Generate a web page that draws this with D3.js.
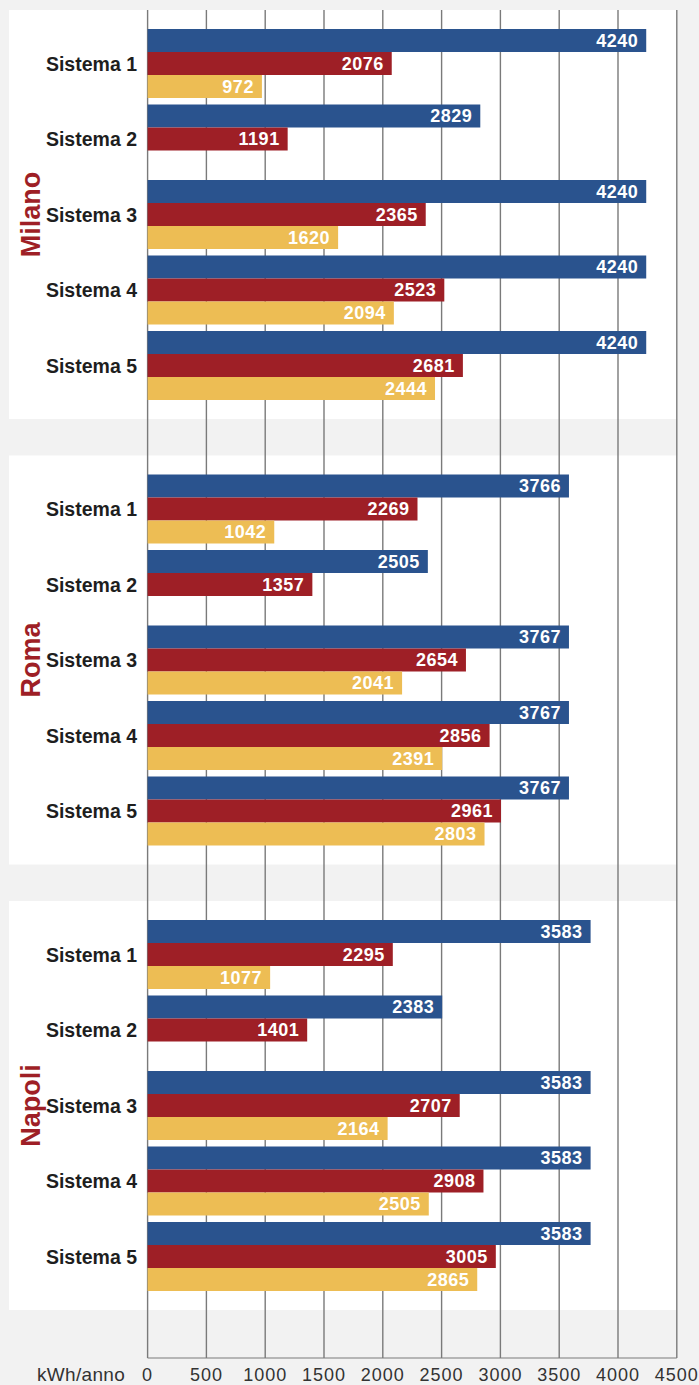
<!DOCTYPE html>
<html>
<head>
    <meta charset="utf-8">
    <title>kWh/anno per sistema</title>
    <script src="https://d3js.org/d3.v7.min.js"></script>
    <style>
        body { margin: 0; background: #f2f2f2; }
        .sys-label { font-family: "Liberation Sans", Arial, sans-serif; font-weight: bold; font-size: 19.5px; fill: #1e1e1e; }
        .val-label { font-family: "Liberation Sans", Arial, sans-serif; font-weight: bold; font-size: 18px; fill: #fff; letter-spacing: 0.5px; }
        .city-label { font-family: "Liberation Sans", Arial, sans-serif; font-weight: bold; font-size: 27px; fill: #9e1f26; }
        .tick-label { font-family: "Liberation Sans", Arial, sans-serif; font-size: 18px; fill: #333; letter-spacing: 1px; }
    </style>
</head>
<body>
    <div id="chart"></div>
    <script>
        const cities = ["Milano", "Roma", "Napoli"];
        const systems = ["Sistema 1", "Sistema 2", "Sistema 3", "Sistema 4", "Sistema 5"];
        const series = ["blu", "rosso", "giallo"];
        const ticks = [0, 500, 1000, 1500, 2000, 2500, 3000, 3500, 4000, 4500];

        // numbers printed on the bars (per city, per system)
        const blueLabels = [
            [4240, 2829, 4240, 4240, 4240],
            [3766, 2505, 3767, 3767, 3767],
            [3583, 2383, 3583, 3583, 3583]
        ];
        const redLabels = [
            [2076, 1191, 2365, 2523, 2681],
            [2269, 1357, 2654, 2856, 2961],
            [2295, 1401, 2707, 2908, 3005]
        ];
        const yellowLabels = [
            [972, null, 1620, 2094, 2444],
            [1042, null, 2041, 2391, 2803],
            [1077, null, 2164, 2505, 2865]
        ];

        // bar lengths as drawn in the picture (Roma/Napoli bars don't match their numbers)
        const blueBars = [
            [4240, 2829, 4240, 4240, 4240],
            [3583, 2383, 3583, 3583, 3583],
            [3767, 2505, 3767, 3767, 3767]
        ];
        const redBars = [
            [2076, 1191, 2365, 2523, 2681],
            [2295, 1401, 2707, 2908, 3005],
            [2085, 1357, 2654, 2856, 2961]
        ];
        const yellowBars = [
            [972, null, 1620, 2094, 2444],
            [1077, null, 2164, 2505, 2865],
            [1042, null, 2041, 2391, 2803]
        ];

        const colors = { blu: "#2a538e", rosso: "#9e1f26", giallo: "#edbd54" };

        const width = 699, height = 1385;
        const svg = d3.select("#chart").append("svg")
            .attr("width", width)
            .attr("height", height)
            .style("display", "block");

        svg.append("rect").attr("width", width).attr("height", height).attr("fill", "#f2f2f2");

        const x = d3.scaleLinear().domain([0, 4500]).range([147.6, 676.8]);

        const cityY = d3.scaleBand().domain(cities)
            .range([10, 1310])
            .paddingInner(36.5 / 445.5);

        const sysY = d3.scaleBand().domain(systems)
            .range([19, 19 + 371])
            .paddingInner(6.5 / 75.5);

        const serY = d3.scaleBand().domain(series).range([0, sysY.bandwidth()]);

        // white panels
        svg.selectAll("rect.panel")
            .data(cities)
            .join("rect")
            .attr("class", "panel")
            .attr("x", 9)
            .attr("y", d => cityY(d))
            .attr("width", x(4500) + 0.5 - 9)
            .attr("height", cityY.bandwidth())
            .attr("fill", "#fff");

        // grid
        const gridBottom = 1358;
        svg.append("g")
            .selectAll("line")
            .data(ticks)
            .join("line")
            .attr("x1", d => x(d)).attr("x2", d => x(d))
            .attr("y1", 10).attr("y2", gridBottom)
            .attr("stroke", "#7a7a7a")
            .attr("stroke-width", 1.4);
        svg.append("line")
            .attr("x1", x(0)).attr("x2", x(4500))
            .attr("y1", gridBottom).attr("y2", gridBottom)
            .attr("stroke", "#7a7a7a")
            .attr("stroke-width", 1.2);

        const rows = [];
        cities.forEach((c, ci) => {
            systems.forEach((s, si) => {
                rows.push({ city: c, sys: s, ser: "blu", v: blueBars[ci][si], lab: blueLabels[ci][si] });
                rows.push({ city: c, sys: s, ser: "rosso", v: redBars[ci][si], lab: redLabels[ci][si] });
                rows.push({ city: c, sys: s, ser: "giallo", v: yellowBars[ci][si], lab: yellowLabels[ci][si] });
            });
        });
        const barRows = rows.filter(d => d.v != null);
        const barTop = d => cityY(d.city) + sysY(d.sys) + serY(d.ser);

        svg.append("g")
            .selectAll("rect")
            .data(barRows)
            .join("rect")
            .attr("x", x(0))
            .attr("y", barTop)
            .attr("width", d => x(d.v) - x(0))
            .attr("height", serY.bandwidth())
            .attr("fill", d => colors[d.ser]);

        svg.append("g")
            .selectAll("text")
            .data(barRows)
            .join("text")
            .attr("class", "val-label")
            .attr("x", d => x(d.v) - 8)
            .attr("y", d => barTop(d) + serY.bandwidth() / 2)
            .attr("dy", "0.36em")
            .attr("text-anchor", "end")
            .text(d => d.lab);

        // system labels
        const sysRows = [];
        cities.forEach(c => systems.forEach(s => sysRows.push({ city: c, sys: s })));
        svg.append("g")
            .selectAll("text")
            .data(sysRows)
            .join("text")
            .attr("class", "sys-label")
            .attr("x", 137)
            .attr("y", d => cityY(d.city) + sysY(d.sys) + serY("rosso") + serY.bandwidth() / 2)
            .attr("dy", "0.36em")
            .attr("text-anchor", "end")
            .text(d => d.sys);

        // city labels
        svg.append("g")
            .selectAll("text")
            .data(cities)
            .join("text")
            .attr("class", "city-label")
            .attr("transform", d => `translate(40,${cityY(d) + cityY.bandwidth() / 2}) rotate(-90)`)
            .attr("text-anchor", "middle")
            .text(d => d);

        // x axis labels
        svg.append("g")
            .selectAll("text")
            .data(ticks)
            .join("text")
            .attr("class", "tick-label")
            .attr("x", d => x(d))
            .attr("y", 1381)
            .attr("text-anchor", "middle")
            .text(d => d);
        svg.append("text")
            .attr("class", "tick-label")
            .attr("x", 125)
            .attr("y", 1381)
            .attr("text-anchor", "end")
            .style("font-size", "19px")
            .style("letter-spacing", "0.3px")
            .text("kWh/anno");
    </script>
</body>
</html>
